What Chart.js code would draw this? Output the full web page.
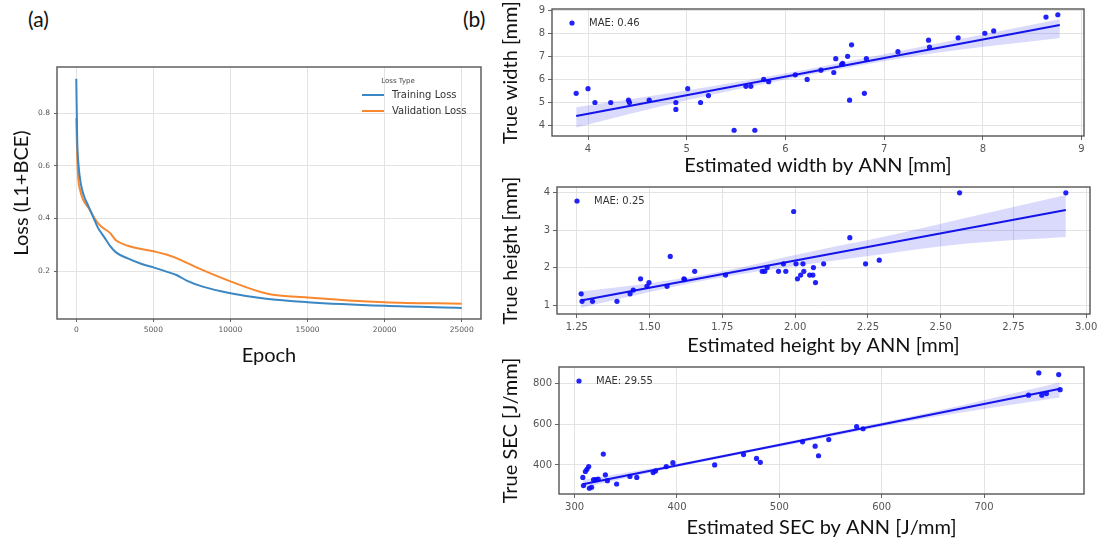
<!DOCTYPE html>
<html>
<head>
<meta charset="utf-8">
<script src="https://cdn.jsdelivr.net/npm/chart.js@4.4.0/dist/chart.umd.min.js"></script>
<style>
  body { margin: 0; background: #fff; width: 1108px; height: 546px; position: relative; overflow: hidden; font-family: Lato, sans-serif; }
  canvas { position: absolute; }
  .tag { position: absolute; font-size: 21px; color: #111; }
</style>
</head>
<body>
<div class="tag" style="left:28px;top:6px">(a)</div>
<div class="tag" style="left:463px;top:6px">(b)</div>
<canvas id="loss" width="490" height="340" style="left:0;top:40px"></canvas>
<canvas id="width" width="612" height="180" style="left:490px;top:0"></canvas>
<canvas id="height" width="616" height="180" style="left:490px;top:178px"></canvas>
<canvas id="sec" width="612" height="188" style="left:490px;top:358px"></canvas>
<script>
// (a) loss curves
const trainEpochs = [0, 60, 150, 300, 500, 800, 1100, 1400, 1800, 2200, 2600, 3300, 4200, 5000, 6000, 6500, 7200, 8200, 10000, 12300, 15000, 20000, 25000];
const trainLoss   = [0.93, 0.70, 0.60, 0.53, 0.485, 0.445, 0.405, 0.365, 0.33, 0.295, 0.27, 0.249, 0.228, 0.214, 0.195, 0.185, 0.163, 0.141, 0.116, 0.095, 0.082, 0.068, 0.06];
const valEpochs   = [0, 60, 130, 240, 450, 800, 1300, 1600, 2200, 2550, 3300, 5000, 5900, 6500, 7800, 10000, 12400, 15000, 20000, 25000];
const valLoss     = [0.78, 0.64, 0.55, 0.51, 0.47, 0.44, 0.39, 0.37, 0.344, 0.318, 0.297, 0.275, 0.262, 0.249, 0.214, 0.161, 0.114, 0.10, 0.082, 0.076];
const lossTicksX = [0, 5000, 10000, 15000, 20000, 25000];
const lossTicksY = [0.2, 0.4, 0.6, 0.8];

// (b) width
const widthEst  = [3.88, 4.0, 4.07, 4.23, 4.41, 4.42, 4.62, 4.89, 4.89, 5.01, 5.14, 5.22, 5.48, 5.6, 5.65, 5.69, 5.78, 5.83, 6.1, 6.22, 6.36, 6.49, 6.51, 6.58, 6.57, 6.63, 6.65, 6.67, 6.8, 6.82, 7.14, 7.45, 7.46, 7.75, 8.02, 8.11, 8.64, 8.76];
const widthTrue = [5.4, 5.6, 5.0, 5.0, 5.1, 5.0, 5.1, 5.0, 4.7, 5.6, 5.0, 5.3, 3.8, 5.7, 5.7, 3.8, 6.0, 5.9, 6.2, 6.0, 6.4, 6.3, 6.9, 6.7, 6.65, 7.0, 5.1, 7.5, 5.4, 6.9, 7.2, 7.7, 7.4, 7.8, 8.0, 8.1, 8.7, 8.8];
const widthFitX = [3.88, 8.78];
const widthFitY = [4.42, 8.36];
const widthBandX  = [3.88, 5.0, 6.2, 7.5, 8.78];
const widthBandHi = [4.80, 5.52, 6.42, 7.52, 8.61];
const widthBandLo = [3.92, 5.10, 6.16, 7.13, 7.79];
const widthTicks = [4, 5, 6, 7, 8, 9];

// (b) height
const heightEst  = [1.265, 1.268, 1.304, 1.388, 1.433, 1.444, 1.469, 1.491, 1.498, 1.56, 1.571, 1.618, 1.62, 1.655, 1.761, 1.887, 1.896, 1.904, 1.943, 1.96, 1.968, 1.995, 2.003, 2.008, 2.019, 2.027, 2.03, 2.05, 2.061, 2.063, 2.07, 2.098, 2.188, 2.242, 2.289, 2.565, 2.93];
const heightTrue = [1.3, 1.1, 1.1, 1.1, 1.3, 1.4, 1.7, 1.5, 1.6, 1.5, 2.3, 1.7, 1.68, 1.9, 1.8, 1.9, 1.9, 2.0, 1.9, 2.1, 1.9, 3.5, 2.1, 1.7, 1.8, 2.1, 1.9, 1.8, 1.8, 2.0, 1.6, 2.1, 2.8, 2.1, 2.2, 4.0, 4.0];
const heightFitX = [1.265, 2.93];
const heightFitY = [1.12, 3.54];
const heightBandX  = [1.265, 1.5, 1.75, 2.0, 2.336, 2.6, 2.93];
const heightBandHi = [1.36, 1.58, 1.90, 2.34, 2.88, 3.35, 3.94];
const heightBandLo = [0.93, 1.35, 1.74, 2.04, 2.40, 2.65, 2.82];
const heightTicksX = [1.25, 1.5, 1.75, 2.0, 2.25, 2.5, 2.75, 3.0];
const heightTicksY = [1, 2, 3, 4];

// (b) SEC
const secEst  = [308, 308.6, 310.5, 312, 313.7, 314.4, 316.6, 318.5, 320.8, 323, 328, 330, 332, 341, 354, 360.7, 376.7, 379, 389.5, 396, 436.8, 465, 477.7, 481.4, 522.7, 535, 538.3, 548.3, 575.5, 581.8, 743.5, 753.5, 756.5, 761, 773, 774.4];
const secTrue = [339, 299, 368, 379, 392, 286, 291, 328, 328, 331, 453, 352, 323, 307, 344, 339, 363, 371, 392, 411, 400, 451, 432, 413, 513, 492, 445, 524, 588, 577, 741, 850, 741, 749, 842, 768];
const secFitX = [308, 774.4];
const secFitY = [306, 773];
const secBandX  = [308, 400, 550, 650, 774];
const secBandHi = [326, 406, 556, 660, 803];
const secBandLo = [288, 390, 538, 634, 730];
const secTicksX = [300, 400, 500, 600, 700];
const secTicksY = [400, 600, 800];

const pairs = (xs, ys) => xs.map((x, i) => ({x: x, y: ys[i]}));

function axis(o) {
  return {
    type: 'linear', min: o.min, max: o.max,
    afterBuildTicks: s => { s.ticks = o.ticks.map(v => ({value: v})); },
    afterFit: s => { if (o.w) s.width = o.w; if (o.h) s.height = o.h; },
    grid: {color: '#e3e3e3', tickColor: '#666', tickLength: o.tl, lineWidth: 1},
    border: {display: false},
    ticks: {color: '#555', font: {family: 'DejaVu Sans', size: o.fs}, padding: o.pad, callback: o.fmt, maxRotation: 0, autoSkip: false},
    title: {display: true, text: o.title, color: '#111', font: {family: 'Lato', size: 20}, padding: o.tp}
  };
}

const frame = {
  id: 'frame',
  afterDraw(c) {
    const a = c.chartArea, ctx = c.ctx;
    ctx.save();
    ctx.strokeStyle = '#555';
    ctx.lineWidth = 1.4;
    ctx.strokeRect(a.left, a.top, a.right - a.left, a.bottom - a.top);
    ctx.restore();
  }
};

const maeKey = {
  id: 'maeKey',
  afterDraw(c) {
    const ds = c.data.datasets.find(d => d.key);
    if (!ds) return;
    const a = c.chartArea, ctx = c.ctx;
    ctx.save();
    ctx.fillStyle = ds.backgroundColor;
    ctx.beginPath();
    ctx.arc(a.left + 20, a.top + 14, 2.6, 0, Math.PI * 2);
    ctx.fill();
    ctx.fillStyle = '#333';
    ctx.font = '10px "DejaVu Sans"';
    ctx.textBaseline = 'middle';
    ctx.fillText(ds.label, a.left + 37, a.top + 14);
    ctx.restore();
  }
};

const lossKey = {
  id: 'lossKey',
  afterDraw(c) {
    const a = c.chartArea, ctx = c.ctx;
    ctx.save();
    ctx.textBaseline = 'middle';
    ctx.fillStyle = '#444';
    ctx.font = '7px "DejaVu Sans"';
    ctx.textAlign = 'center';
    ctx.fillText('Loss Type', a.right - 83, a.top + 14);
    ctx.textAlign = 'left';
    ctx.font = '10px "DejaVu Sans"';
    c.data.datasets.forEach((d, i) => {
      const y = a.top + 28 + i * 16;
      ctx.strokeStyle = d.borderColor;
      ctx.lineWidth = 2;
      ctx.beginPath();
      ctx.moveTo(a.right - 119, y);
      ctx.lineTo(a.right - 97, y);
      ctx.stroke();
      ctx.fillStyle = '#333';
      ctx.fillText(d.label, a.right - 89, y);
    });
    ctx.restore();
  }
};

new Chart(document.getElementById('loss'), {
  type: 'line',
  data: {
    datasets: [
      {label: 'Training Loss', data: pairs(trainEpochs, trainLoss), borderColor: '#3a87c4', borderWidth: 2, pointRadius: 0, cubicInterpolationMode: 'monotone'},
      {label: 'Validation Loss', data: pairs(valEpochs, valLoss), borderColor: '#f7882f', borderWidth: 2, pointRadius: 0, cubicInterpolationMode: 'monotone'}
    ]
  },
  options: {
    responsive: false, animation: false, devicePixelRatio: 1,
    layout: {padding: {left: 0, top: 27, right: 9, bottom: 0}},
    plugins: {legend: {display: false}, tooltip: {enabled: false}},
    scales: {
      x: axis({min: -1250, max: 26250, ticks: lossTicksX, h: 61, fs: 7.5, tl: 3, pad: 4, fmt: v => String(v), title: 'Epoch', tp: {top: 0, bottom: 12}}),
      y: axis({min: 0.018, max: 0.975, ticks: lossTicksY, w: 57, fs: 7.5, tl: 3, pad: 4, fmt: v => v.toFixed(1), title: 'Loss (L1+BCE)', tp: {top: 10, bottom: 0}})
    }
  },
  plugins: [frame, lossKey]
});

function regChart(id, cfg) {
  const blue = 'rgb(20,20,235)';
  new Chart(document.getElementById(id), {
    type: 'scatter',
    data: {
      datasets: [
        {data: pairs(cfg.bandX, cfg.bandHi), showLine: true, pointRadius: 0, borderWidth: 0, backgroundColor: 'rgba(70,70,240,0.2)', fill: '+1', cubicInterpolationMode: 'monotone', order: 3},
        {data: pairs(cfg.bandX, cfg.bandLo), showLine: true, pointRadius: 0, borderWidth: 0, fill: false, cubicInterpolationMode: 'monotone', order: 4},
        {data: pairs(cfg.fitX, cfg.fitY), showLine: true, pointRadius: 0, borderColor: blue, borderWidth: 2, fill: false, order: 1},
        {label: cfg.mae, key: true, data: pairs(cfg.est, cfg.tru), pointRadius: 2.6, backgroundColor: 'rgba(10,10,250,0.9)', borderWidth: 0, order: 0}
      ]
    },
    options: {
      responsive: false, animation: false, devicePixelRatio: 1,
      layout: {padding: cfg.pad},
      plugins: {legend: {display: false}, tooltip: {enabled: false}},
      scales: {
        x: axis(Object.assign({fs: 10, tl: 4, pad: 3, title: cfg.xTitle}, cfg.x)),
        y: axis(Object.assign({fs: 10, tl: 4, pad: 3, title: cfg.yTitle}, cfg.y))
      }
    },
    plugins: [frame, maeKey]
  });
}

regChart('width', {
  est: widthEst, tru: widthTrue, fitX: widthFitX, fitY: widthFitY,
  bandX: widthBandX, bandHi: widthBandHi, bandLo: widthBandLo, mae: 'MAE: 0.46',
  xTitle: 'Estimated width by ANN [mm]', yTitle: 'True width [mm]',
  pad: {left: 0, top: 7, right: 18, bottom: 0},
  x: {min: 3.635, max: 9.025, ticks: widthTicks, h: 44, fmt: v => String(v), tp: {top: 0, bottom: 2}},
  y: {min: 3.55, max: 9.05, ticks: widthTicks, w: 62, fmt: v => String(v), tp: {top: 9, bottom: 0}}
});

regChart('height', {
  est: heightEst, tru: heightTrue, fitX: heightFitX, fitY: heightFitY,
  bandX: heightBandX, bandHi: heightBandHi, bandLo: heightBandLo, mae: 'MAE: 0.25',
  xTitle: 'Estimated height by ANN [mm]', yTitle: 'True height [mm]',
  pad: {left: 0, top: 8, right: 16, bottom: 0},
  x: {min: 1.182, max: 3.013, ticks: heightTicksX, h: 44, fmt: v => v.toFixed(2), tp: {top: 0, bottom: 0}},
  y: {min: 0.76, max: 4.155, ticks: heightTicksY, w: 67, fmt: v => String(v), tp: {top: 9, bottom: 0}}
});

regChart('sec', {
  est: secEst, tru: secTrue, fitX: secFitX, fitY: secFitY,
  bandX: secBandX, bandHi: secBandHi, bandLo: secBandLo, mae: 'MAE: 29.55',
  xTitle: 'Estimated SEC by ANN [J/mm]', yTitle: 'True SEC [J/mm]',
  pad: {left: 0, top: 8, right: 18, bottom: 0},
  x: {min: 284.7, max: 797.7, ticks: secTicksX, h: 52, fmt: v => String(v), tp: {top: 0, bottom: 6}},
  y: {min: 258, max: 879, ticks: secTicksY, w: 69, fmt: v => String(v), tp: {top: 9, bottom: 0}}
});
</script>
</body>
</html>
